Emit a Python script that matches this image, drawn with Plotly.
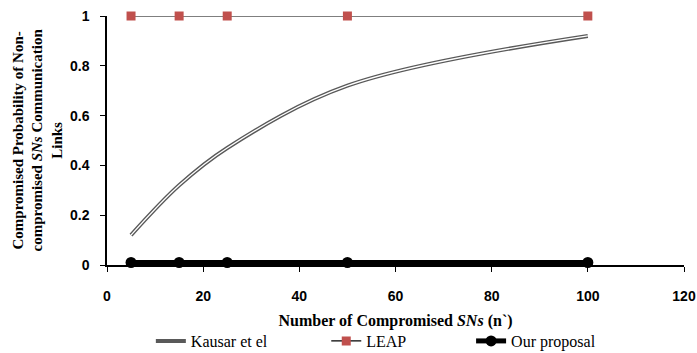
import plotly.graph_objects as go

x_vals = [5, 15, 25, 50, 100]
kausar = [0.12, 0.32, 0.47, 0.72, 0.92]
leap = [1, 1, 1, 1, 1]
ours = [0.01, 0.01, 0.01, 0.01, 0.01]

x_ticks = [0, 20, 40, 60, 80, 100, 120]
y_ticks = [0, 0.2, 0.4, 0.6, 0.8, 1]
y_tick_text = ["0", "0.2", "0.4", "0.6", "0.8", "1"]

fig = go.Figure()
fig.add_trace(go.Scatter(x=x_vals, y=kausar, mode="lines", name="Kausar et el",
                         line=dict(color="#595959", width=4, shape="spline"),
                         legendgroup="k", cliponaxis=False, legend="legend"))
fig.add_trace(go.Scatter(x=x_vals, y=kausar, mode="lines", name="Kausar et el",
                         line=dict(color="white", width=1.3, shape="spline"),
                         legendgroup="k", showlegend=False, hoverinfo="skip",
                         cliponaxis=False))
fig.add_trace(go.Scatter(x=x_vals, y=leap, mode="lines+markers", name="LEAP",
                         line=dict(color="black", width=1.2),
                         marker=dict(symbol="square", size=9, color="#C0504D"),
                         cliponaxis=False, legend="legend2"))
fig.add_trace(go.Scatter(x=x_vals, y=ours, mode="lines+markers", name="Our proposal",
                         line=dict(color="black", width=5),
                         marker=dict(symbol="circle", size=11, color="black"),
                         cliponaxis=False, legend="legend3"))

tick_font = dict(family="Liberation Sans", size=14, color="black", weight="bold")
title_font = dict(family="Liberation Serif", size=16, color="black", weight="bold")
ytitle_font = dict(family="Liberation Serif", size=15, color="black", weight="bold")
legend_font = dict(family="Liberation Serif", size=16, color="black")


def leg(xpos):
    return dict(orientation="h", x=xpos, xanchor="left", y=-0.237, yanchor="top",
                font=legend_font, itemwidth=30, bgcolor="rgba(0,0,0,0)",
                borderwidth=0)


fig.update_layout(
    width=697, height=353,
    margin=dict(l=107, r=13, t=16, b=88, autoexpand=False),
    plot_bgcolor="white", paper_bgcolor="white",
    showlegend=True,
    legend=leg(0.076),
    legend2=leg(0.38),
    legend3=leg(0.631),
    xaxis=dict(range=[0, 120], tickvals=x_ticks, ticks="outside", ticklen=5,
               tickcolor="black", showline=True, linecolor="black", linewidth=1.5,
               showgrid=False, zeroline=False, tickfont=tick_font,
               ticklabelstandoff=12, automargin=False,
               title=dict(text="Number of Compromised <i>SNs</i> (n`)", font=title_font,
                          standoff=12)),
    yaxis=dict(range=[0, 1], tickvals=y_ticks, ticktext=y_tick_text, ticks="outside",
               ticklen=5, tickcolor="black", showline=True, linecolor="black",
               linewidth=1.5, showgrid=False, zeroline=False, tickfont=tick_font,
               ticklabelstandoff=8, automargin=False),
    annotations=[dict(
        text="Compromised Probability of Non-<br>compromised <i>SNs</i> Communication<br>Links",
        xref="paper", yref="paper", x=(37 - 107) / 577, y=0.5,
        xanchor="center", yanchor="middle", textangle=-90, showarrow=False,
        font=ytitle_font)],
)

fig.write_html("out.html", config={"displayModeBar": False},
               post_script="document.body.style.margin='0';")
